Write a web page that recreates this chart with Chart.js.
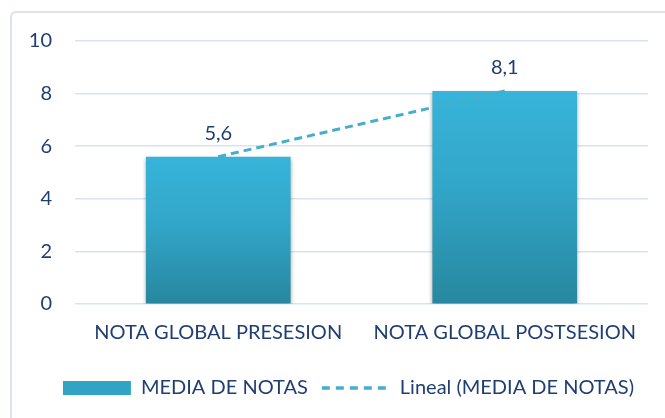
<!DOCTYPE html>
<html>
<head>
<meta charset="utf-8">
<script src="https://cdn.jsdelivr.net/npm/chart.js@4.4.0/dist/chart.umd.min.js"></script>
<style>
html,body{margin:0;padding:0;background:#fff;overflow:hidden;}
#wrap{position:relative;width:665px;height:418px;overflow:hidden;}
#edge{position:absolute;left:10px;top:11px;width:700px;height:460px;border-left:2px solid #dae3f3;border-top:2px solid #dae3f3;border-top-left-radius:6px;}
canvas{position:absolute;left:0;top:0;}
</style>
</head>
<body>
<div id="wrap"><div id="edge"></div><canvas id="c" width="665" height="418"></canvas></div>
<script>
const categories = ["NOTA GLOBAL PRESESION", "NOTA GLOBAL POSTSESION"];
const mediaNotas = [5.6, 8.1];
const tendencia = [5.6, 8.1];
const yTicks = [0, 2, 4, 6, 8, 10];
const seriesNames = ["MEDIA DE NOTAS", "Lineal (MEDIA DE NOTAS)"];

const TEXT = '#1f3f73';
const FONT = 'Lato, "Open Sans", sans-serif';
const FS = 20;

function barGradient(ctx) {
  const chart = ctx.chart;
  const y = chart.scales && chart.scales.y;
  if (!chart.chartArea || !y || ctx.raw === undefined) return '#31a3c4';
  const top = y.getPixelForValue(ctx.raw);
  const bot = y.getPixelForValue(0);
  const g = chart.ctx.createLinearGradient(0, top, 0, bot);
  g.addColorStop(0, '#37b4da');
  g.addColorStop(0.45, '#32a6c8');
  g.addColorStop(1, '#27879f');
  return g;
}

const shadowPlugin = {
  id: 'shadow',
  beforeDatasetDraw(chart, args) {
    if (args.index === 0) {
      const c = chart.ctx;
      c.save();
      c.shadowColor = 'rgba(0,0,0,0.35)';
      c.shadowBlur = 4;
      c.shadowOffsetX = 0;
      c.shadowOffsetY = 2;
    }
  },
  afterDatasetDraw(chart, args) {
    if (args.index === 0) chart.ctx.restore();
  }
};

const labelPlugin = {
  id: 'vals',
  afterDatasetsDraw(chart) {
    const meta = chart.getDatasetMeta(0);
    const c = chart.ctx;
    c.save();
    c.font = FS + 'px ' + FONT;
    c.fillStyle = TEXT;
    c.textAlign = 'center';
    c.textBaseline = 'middle';
    meta.data.forEach((bar, i) => {
      c.fillText(String(mediaNotas[i]).replace('.', ','), bar.x, bar.y - 23);
    });
    c.restore();
  }
};

new Chart(document.getElementById('c'), {
  data: {
    labels: categories,
    datasets: [
      {
        type: 'bar',
        label: seriesNames[0],
        data: mediaNotas,
        backgroundColor: barGradient,
        borderWidth: 0,
        categoryPercentage: 1,
        barPercentage: 0.505,
        order: 1
      },
      {
        type: 'line',
        label: seriesNames[1],
        data: tendencia,
        borderColor: '#45afca',
        backgroundColor: '#45afca',
        borderWidth: 3,
        borderDash: [8, 5],
        pointRadius: 0,
        fill: false,
        tension: 0,
        order: 0
      }
    ]
  },
  plugins: [shadowPlugin, labelPlugin],
  options: {
    responsive: false,
    animation: false,
    layout: { padding: { left: 0, right: 17, top: 41, bottom: 10 } },
    scales: {
      x: {
        grid: { display: false },
        border: { display: false },
        afterFit(s) { s.height = 60; },
        ticks: { color: TEXT, font: { family: FONT, size: FS }, padding: 9, maxRotation: 0 }
      },
      y: {
        min: 0, max: 10,
        afterBuildTicks(s) { s.ticks = yTicks.map(v => ({ value: v })); },
        afterFit(s) { s.width = 75; },
        grid: { color: '#d9e2f1', lineWidth: 1.5, drawTicks: false },
        border: { display: false },
        ticks: { color: TEXT, font: { family: FONT, size: FS }, padding: 23 }
      }
    },
    plugins: {
      tooltip: { enabled: false },
      legend: {
        position: 'bottom',
        align: 'end',
        labels: {
          usePointStyle: true,
          pointStyleWidth: 68,
          boxHeight: 14,
          padding: 14,
          color: TEXT,
          font: { family: FONT, size: FS },
          generateLabels(chart) {
            return [
              { text: seriesNames[0], fillStyle: '#31a4c6', strokeStyle: '#31a4c6', lineWidth: 0, pointStyle: 'rect', datasetIndex: 0, fontColor: TEXT },
              { text: seriesNames[1], fillStyle: 'rgba(0,0,0,0)', strokeStyle: '#45afca', lineWidth: 3.5, lineDash: [8, 6], pointStyle: 'line', datasetIndex: 1, fontColor: TEXT }
            ];
          }
        }
      }
    }
  }
});
</script>
</body>
</html>
